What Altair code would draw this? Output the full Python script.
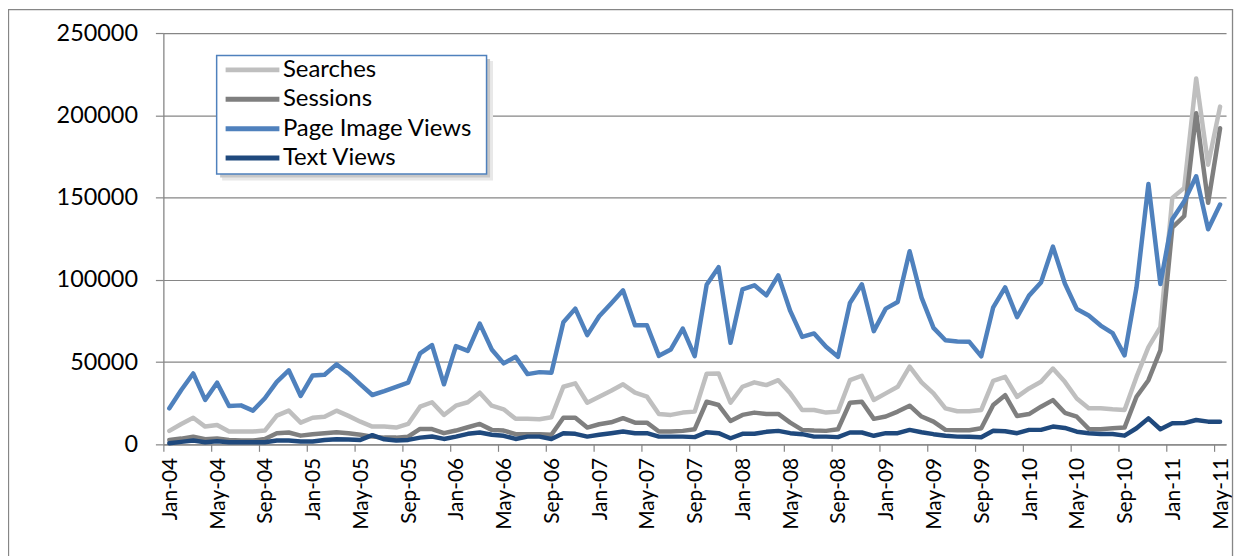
import altair as alt
import pandas as pd

series_names = ["Searches", "Sessions", "Page Image Views", "Text Views"]
series_colors = ["#BFBFBF", "#7F7F7F", "#4F81BD", "#1F497D"]

tick_labels = ["Jan-04", "May-04", "Sep-04", "Jan-05", "May-05", "Sep-05",
               "Jan-06", "May-06", "Sep-06", "Jan-07", "May-07", "Sep-07",
               "Jan-08", "May-08", "Sep-08", "Jan-09", "May-09", "Sep-09",
               "Jan-10", "May-10", "Sep-10", "Jan-11", "May-11"]

searches = [8200, 12400, 16200, 10800, 11800, 7800, 7800, 7800, 8400, 17500,
            20500, 13200, 16200, 16800, 20500, 17300, 13800, 10800, 10800, 10200,
            12400, 22900, 25600, 17900, 23500, 25600, 31400, 23500, 21300, 15500,
            15500, 15300, 16500, 35000, 37100, 25300, 29000, 32600, 36500, 31400,
            29000, 18500, 17900, 19300, 19900, 42900, 43100, 25300, 35000, 37700,
            36000, 39000, 31000, 20900, 20900, 19300, 19900, 39000, 41700, 27000,
            31000, 35000, 47200, 37700, 31000, 21900, 20100, 20100, 20900, 38600,
            41000, 28900, 34000, 38000, 46100, 38000, 27900, 21900, 21900, 21300,
            20900, 41000, 59100, 71200, 149800, 155900, 222400, 170000, 205300]

sessions = [2700, 3500, 4700, 3100, 3500, 2700, 2300, 2300, 3300, 6800,
            7200, 5300, 6200, 6800, 7400, 6800, 5800, 4700, 4100, 4100,
            4700, 9400, 9300, 6800, 8400, 10400, 12400, 8800, 8400, 6200,
            6200, 6200, 5800, 16200, 16200, 10200, 12200, 13400, 15900, 13200,
            13200, 7800, 7800, 8200, 9200, 25900, 23900, 14200, 17900, 19300,
            18500, 18500, 13200, 8800, 8400, 8200, 9200, 25300, 25900, 15500,
            16900, 19900, 23500, 16900, 13800, 8800, 8600, 8600, 9800, 23900,
            29900, 17200, 18400, 22900, 26900, 19200, 16800, 9400, 9200, 9800,
            10200, 28900, 39000, 57100, 131700, 138800, 201200, 146800, 192100]

page_image_views = [21900, 33000, 43100, 27000, 37500, 23300, 23700, 20500, 28000, 38000,
                    45000, 29400, 41900, 42300, 48600, 43100, 36500, 30000, 32400, 35000,
                    37500, 55300, 60300, 36500, 59700, 56800, 73400, 57700, 49200, 53200,
                    42700, 43900, 43500, 74200, 82500, 66400, 77900, 85600, 93600, 72400,
                    72400, 53800, 57700, 70400, 53600, 97000, 107700, 61700, 94200, 96700,
                    90600, 102700, 81100, 65300, 67400, 59300, 53200, 85900, 97300, 68800,
                    82500, 86500, 117400, 89200, 70800, 63300, 62500, 62300, 53500, 83300,
                    95400, 77300, 90400, 98400, 120200, 97800, 82300, 78300, 72200, 67600,
                    54100, 95400, 158300, 97400, 136800, 147800, 162900, 130700, 145800]

text_views = [700, 1500, 2300, 1300, 1900, 1300, 1300, 1300, 1300, 2300,
              2300, 1700, 1700, 2700, 3100, 2900, 2700, 5600, 3100, 2300,
              2700, 4100, 4800, 3300, 4700, 6400, 7200, 5800, 5200, 3300,
              4700, 4700, 3300, 6800, 6400, 4700, 5800, 6800, 7800, 6800,
              6800, 4700, 4700, 4700, 4400, 7400, 6800, 3700, 6400, 6400,
              7600, 8200, 6800, 6200, 4700, 4700, 4400, 7200, 7200, 5200,
              6800, 6800, 8800, 7400, 6200, 5200, 4700, 4600, 4300, 8300,
              8000, 6800, 8800, 8800, 10800, 10000, 7700, 6800, 6300, 6300,
              5300, 9800, 15800, 9200, 12800, 12900, 14800, 13800, 13800]

all_series = [searches, sessions, page_image_views, text_views]

rows = []
for name, vals in zip(series_names, all_series):
    for i, v in enumerate(vals):
        rows.append({"series": name, "pos": i + 0.5, "value": v})
df = pd.DataFrame(rows)

FONT = "Lato"
GRID = "#868686"

label_array = "[" + ",".join("'" + t + "'" for t in tick_labels) + "]"

x_enc = alt.X("pos:Q",
              scale=alt.Scale(domain=[0, 89], nice=False, zero=False),
              axis=alt.Axis(values=list(range(0, 89, 4)),
                            labelExpr=label_array + "[round(datum.value / 4)]",
                            labelAngle=270, labelOffset=7, labelPadding=6,
                            labelFont=FONT, labelFontSize=21, labelColor="black",
                            tickSize=7, tickColor=GRID, tickWidth=1.2,
                            domainColor=GRID, domainWidth=1.3, grid=False,
                            title=None))
y_enc = alt.Y("value:Q",
              scale=alt.Scale(domain=[0, 250000], nice=False),
              axis=alt.Axis(values=[0, 50000, 100000, 150000, 200000, 250000],
                            format="d", labelFont=FONT, labelFontSize=23.5,
                            labelColor="black", labelPadding=18,
                            tickSize=8, tickColor=GRID, tickWidth=1.2,
                            domainColor=GRID, domainWidth=1.3,
                            gridColor=GRID, gridWidth=1.2, title=None))
color_enc = alt.Color("series:N",
                      scale=alt.Scale(domain=series_names, range=series_colors),
                      legend=alt.Legend(title=None, orient="none", legendX=60, legendY=28,
                                        direction="vertical", symbolType="stroke",
                                        symbolStrokeWidth=5, symbolSize=2916,
                                        labelFont=FONT, labelFontSize=24, labelColor="black",
                                        labelOffset=1, padding=0,
                                        clipHeight=18, rowPadding=5.5, labelLimit=400))

layers = []

# outer chart frame
frame = alt.Chart(alt.Data(values=[{"k": 1}])).mark_rect(
    filled=False, stroke=GRID, strokeWidth=1.3
).encode(x=alt.value(-155.5), x2=alt.value(1073.5), y=alt.value(-23.5), y2=alt.value(700))
layers.append(frame)

# legend shadow and box
shadow2 = alt.Chart(alt.Data(values=[{"k": 1}])).mark_rect(fill="#e8e8e8").encode(
    x=alt.value(59), x2=alt.value(331), y=alt.value(28), y2=alt.value(148))
shadow1 = alt.Chart(alt.Data(values=[{"k": 1}])).mark_rect(fill="#c8c8c8").encode(
    x=alt.value(57), x2=alt.value(328), y=alt.value(26), y2=alt.value(145))
box = alt.Chart(alt.Data(values=[{"k": 1}])).mark_rect(
    fill="white", stroke="#4F81BD", strokeWidth=1.5
).encode(x=alt.value(53.5), x2=alt.value(324.5), y=alt.value(22.5), y2=alt.value(141.5))
layers += [shadow2, shadow1, box]

for name in series_names:
    layers.append(
        alt.Chart(df).transform_filter(alt.datum.series == name)
        .mark_line(strokeWidth=4.5, strokeJoin="round", strokeCap="round")
        .encode(x=x_enc, y=y_enc, color=color_enc)
    )

chart = alt.layer(*layers).properties(
    width=1067, height=413,
    autosize=alt.AutoSizeParams(type="none"),
    padding={"left": 156, "top": 24, "right": 10, "bottom": 120},
    background="white",
).configure_view(strokeWidth=0)

chart.save("out.html", embed_options={"renderer": "svg", "actions": False})
